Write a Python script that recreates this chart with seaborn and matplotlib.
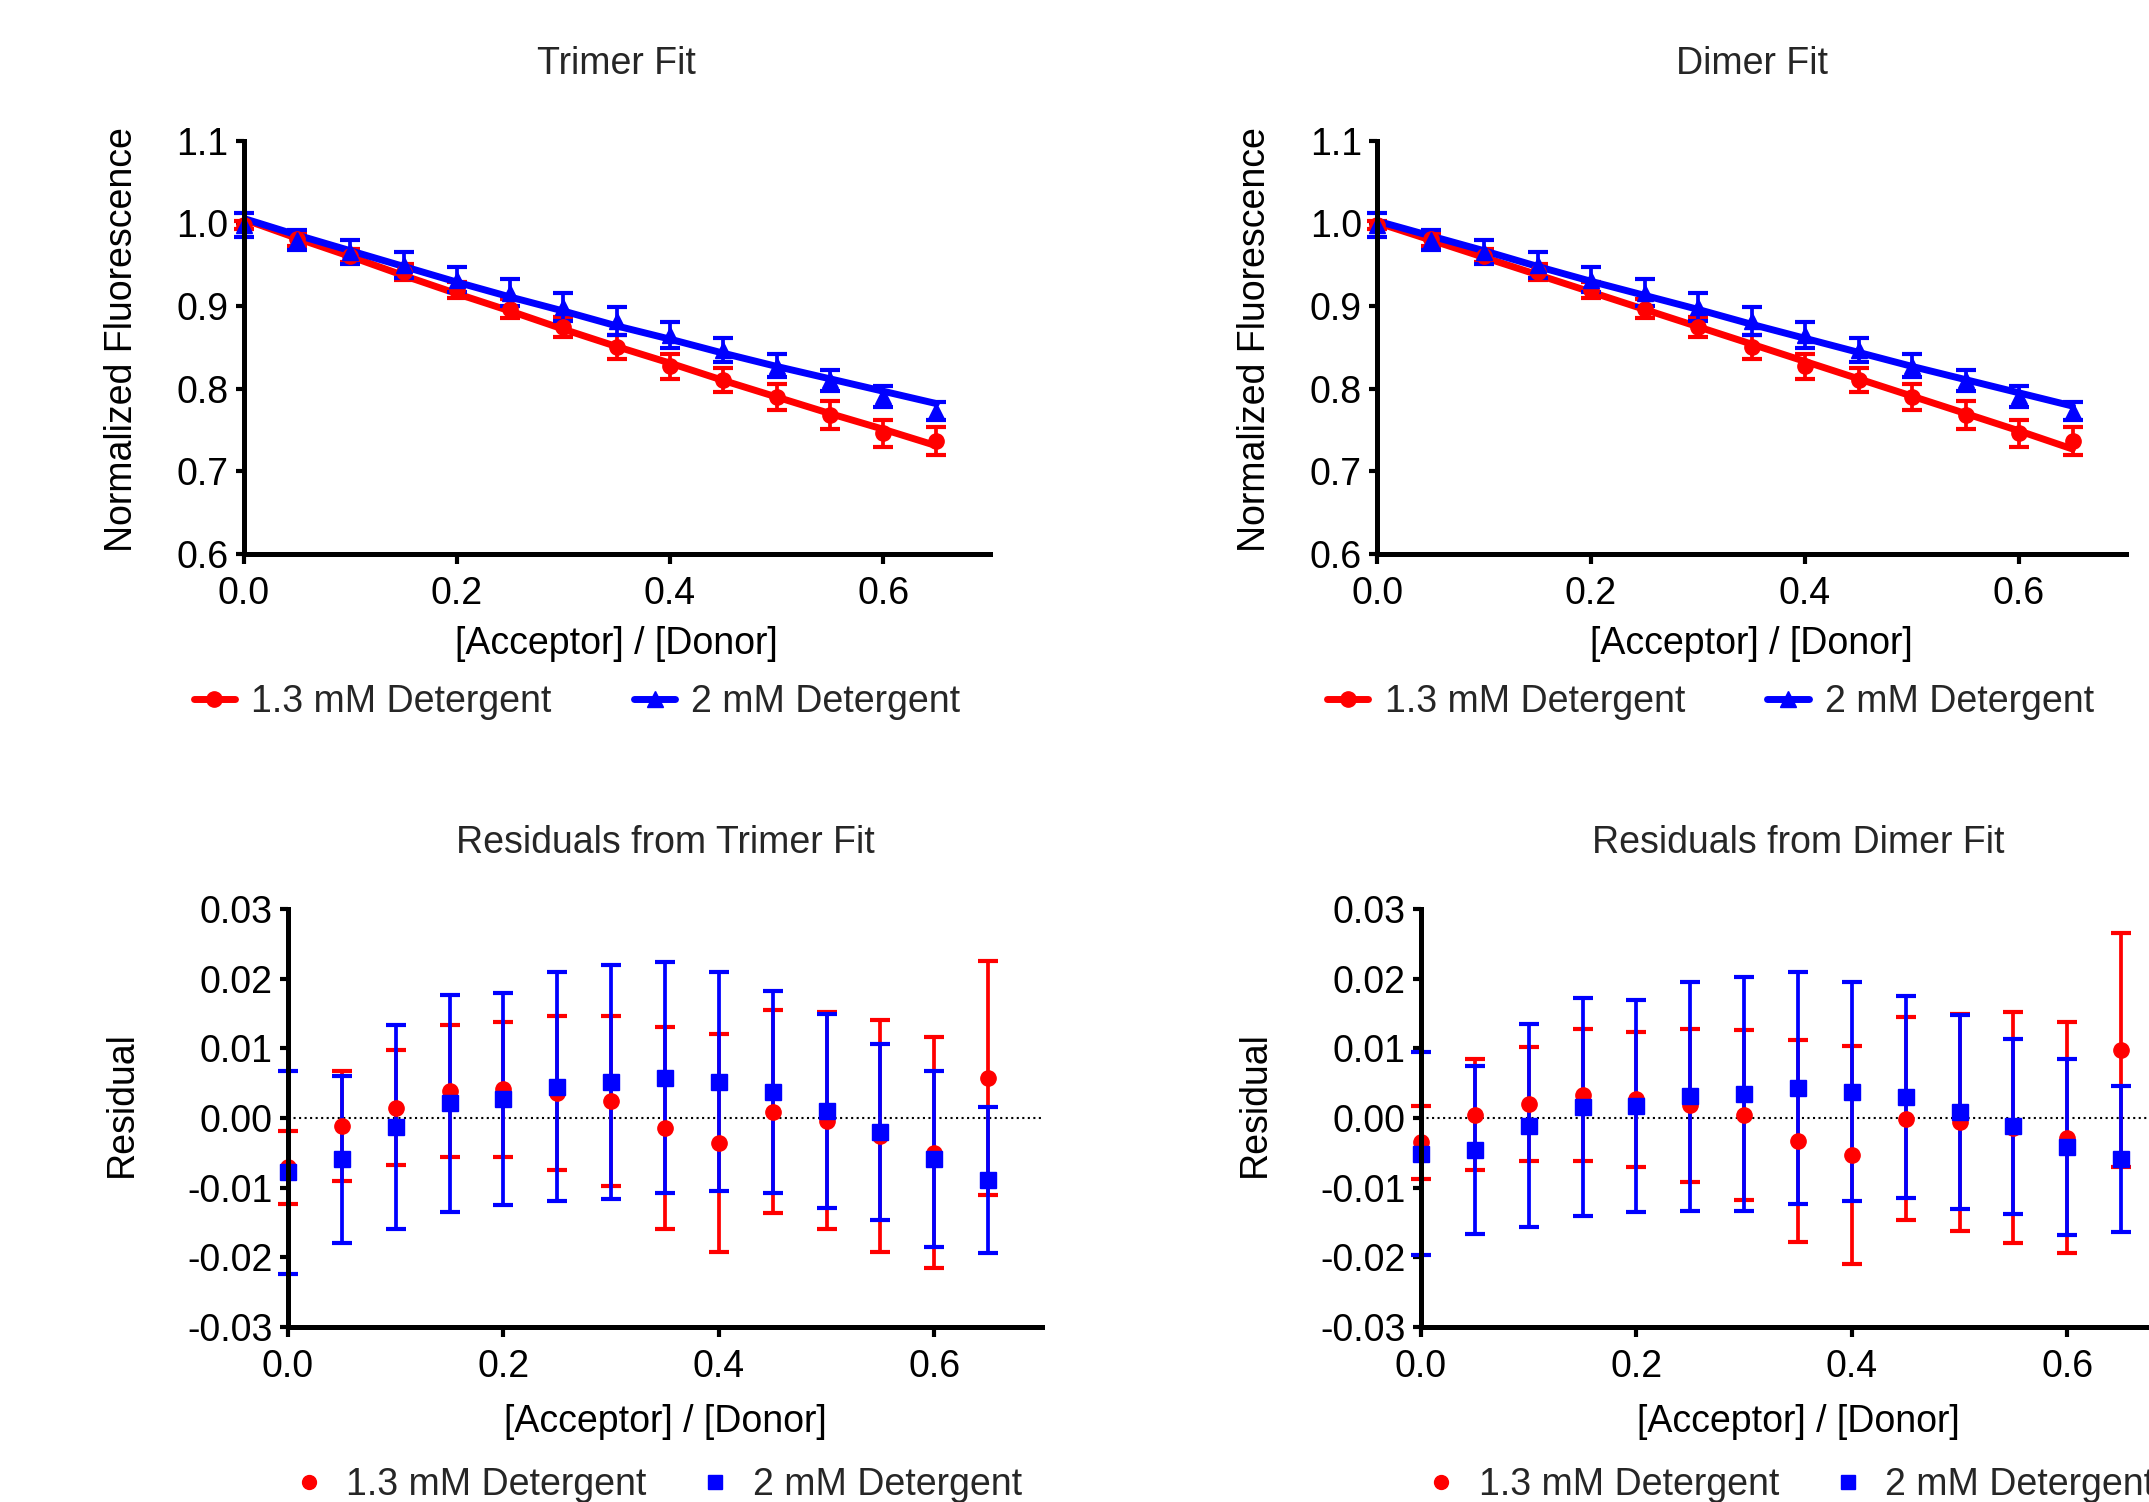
import matplotlib
matplotlib.use('Agg')
import matplotlib.pyplot as plt
from matplotlib.lines import Line2D
from matplotlib.ticker import MultipleLocator, FormatStrFormatter
import seaborn as sns

# acceptor / donor ratio
ratio = [0.0, 0.05, 0.1, 0.15, 0.2, 0.25, 0.3, 0.35, 0.4, 0.45, 0.5, 0.55, 0.6, 0.65]

# measured normalized fluorescence
red_y = [0.998, 0.981, 0.961, 0.941, 0.920, 0.897, 0.875, 0.850, 0.827, 0.811, 0.790, 0.768, 0.746, 0.737]
blue_y = [0.998, 0.980, 0.966, 0.950, 0.932, 0.916, 0.899, 0.882, 0.865, 0.847, 0.828, 0.810, 0.791, 0.773]
red_err = [0.0052, 0.0079, 0.0082, 0.0095, 0.0097, 0.0110, 0.0122, 0.0145, 0.0156, 0.0146, 0.0156, 0.0166, 0.0166, 0.0168]
blue_err = [0.0146, 0.0120, 0.0146, 0.0156, 0.0152, 0.0164, 0.0168, 0.0166, 0.0157, 0.0145, 0.0139, 0.0126, 0.0126, 0.0105]

# fitted curves
trimer_fit_red = [1.005, 0.982, 0.960, 0.937, 0.915, 0.894, 0.872, 0.851, 0.831, 0.810, 0.790, 0.770, 0.751, 0.731]
trimer_fit_blue = [1.006, 0.986, 0.967, 0.948, 0.929, 0.911, 0.894, 0.876, 0.860, 0.843, 0.827, 0.812, 0.797, 0.782]
dimer_fit_red = [1.001, 0.980, 0.959, 0.938, 0.917, 0.896, 0.875, 0.854, 0.833, 0.812, 0.791, 0.770, 0.749, 0.727]
dimer_fit_blue = [1.003, 0.985, 0.967, 0.948, 0.930, 0.913, 0.896, 0.878, 0.861, 0.844, 0.827, 0.811, 0.795, 0.779]

# residuals
trimer_res_red = [-0.0071, -0.0011, 0.0015, 0.0039, 0.0041, 0.0036, 0.0024, -0.0014, -0.0036, 0.0009, -0.0004, -0.0026, -0.0050, 0.0058]
trimer_res_blue = [-0.0078, -0.0059, -0.0013, 0.0021, 0.0027, 0.0045, 0.0052, 0.0058, 0.0052, 0.0037, 0.0010, -0.0020, -0.0059, -0.0089]
dimer_res_red = [-0.0035, 0.0005, 0.0020, 0.0033, 0.0027, 0.0018, 0.0004, -0.0033, -0.0053, -0.0001, -0.0006, -0.0014, -0.0028, 0.0098]
dimer_res_blue = [-0.0051, -0.0046, -0.0011, 0.0016, 0.0017, 0.0031, 0.0034, 0.0043, 0.0038, 0.0030, 0.0009, -0.0012, -0.0042, -0.0059]

labels = ['1.3 mM Detergent', '2 mM Detergent']

RED = '#ff0000'
BLUE = '#0000ff'
FS = 27

sns.set_theme(style='ticks')
plt.rcParams['font.family'] = ['Liberation Sans', 'DejaVu Sans']
plt.rcParams['axes.linewidth'] = 3.6
plt.rcParams['xtick.major.width'] = 3
plt.rcParams['ytick.major.width'] = 3
plt.rcParams['xtick.major.size'] = 7
plt.rcParams['ytick.major.size'] = 6
plt.rcParams['xtick.labelsize'] = FS
plt.rcParams['ytick.labelsize'] = FS
plt.rcParams['xtick.color'] = 'black'
plt.rcParams['ytick.color'] = 'black'
plt.rcParams['axes.edgecolor'] = 'black'

ERR_KW = dict(capsize=7, elinewidth=2.7, capthick=3, clip_on=False)


def style_axes(ax, ylabel, ylab_x, ylab_y, xlab_y):
    sns.despine(ax=ax)
    ax.set_xlim(0, 0.7)
    ax.xaxis.set_major_locator(MultipleLocator(0.2))
    ax.xaxis.set_major_formatter(FormatStrFormatter('%.1f'))
    ax.set_xlabel('[Acceptor] / [Donor]', fontsize=FS, color='black')
    ax.set_ylabel(ylabel, fontsize=FS, color='black')
    ax.yaxis.set_label_coords(ylab_x, ylab_y)
    ax.xaxis.set_label_coords(0.5, xlab_y)
    ax.tick_params(axis='x', pad=9)
    ax.tick_params(axis='y', pad=5)


def fit_panel(ax, title, fit_red, fit_blue):
    sns.lineplot(x=ratio, y=fit_red, color=RED, linewidth=5, ax=ax)
    ax.errorbar(ratio, red_y, yerr=red_err, fmt='o', color=RED, ms=11, **ERR_KW)
    sns.lineplot(x=ratio, y=fit_blue, color=BLUE, linewidth=5, ax=ax)
    ax.errorbar(ratio, blue_y, yerr=blue_err, fmt='^', color=BLUE, ms=12, **ERR_KW)
    ax.set_ylim(0.6, 1.1)
    ax.yaxis.set_major_locator(MultipleLocator(0.1))
    ax.yaxis.set_major_formatter(FormatStrFormatter('%.1f'))
    ax.set_title(title, fontsize=FS, pad=48)
    style_axes(ax, 'Normalized Fluorescence', -0.139, 0.52, -0.175)


def resid_panel(ax, title, res_red, res_blue):
    ax.axhline(0, color='black', linestyle=':', linewidth=1.5, zorder=1)
    ax.errorbar(ratio, res_red, yerr=red_err, fmt='o', color=RED, ms=11, **ERR_KW)
    ax.errorbar(ratio, res_blue, yerr=blue_err, fmt='s', color=BLUE, ms=11.5, **ERR_KW)
    ax.set_ylim(-0.03, 0.03)
    ax.yaxis.set_major_locator(MultipleLocator(0.01))
    ax.yaxis.set_major_formatter(FormatStrFormatter('%.2f'))
    ax.set_title(title, fontsize=FS, pad=40)
    style_axes(ax, 'Residual', -0.196, 0.533, -0.183)


fig = plt.figure(figsize=(21.49, 15.02), dpi=100)

ax_tl = fig.add_axes([0.1135, 0.6312, 0.347, 0.2750])
ax_tr = fig.add_axes([0.6408, 0.6312, 0.3485, 0.2750])
ax_bl = fig.add_axes([0.1340, 0.1165, 0.3509, 0.2783])
ax_br = fig.add_axes([0.6612, 0.1165, 0.3509, 0.2783])

fit_panel(ax_tl, 'Trimer Fit', trimer_fit_red, trimer_fit_blue)
fit_panel(ax_tr, 'Dimer Fit', dimer_fit_red, dimer_fit_blue)
resid_panel(ax_bl, 'Residuals from Trimer Fit', trimer_res_red, trimer_res_blue)
resid_panel(ax_br, 'Residuals from Dimer Fit', dimer_res_red, dimer_res_blue)

line_handles = [Line2D([], [], color=RED, marker='o', lw=5, ms=11),
                Line2D([], [], color=BLUE, marker='^', lw=5, ms=12)]
dot_handles = [Line2D([], [], color=RED, marker='o', lw=0, ms=10),
               Line2D([], [], color=BLUE, marker='s', lw=0, ms=10)]

for cx in (0.2685, 0.796):
    fig.legend(line_handles, labels, loc='center', bbox_to_anchor=(cx, 0.5326),
               ncol=2, frameon=False, fontsize=FS, handlelength=1.1,
               handletextpad=0.43, columnspacing=2.2, borderaxespad=0, borderpad=0)

for cx in (0.306, 0.833):
    fig.legend(dot_handles, labels, loc='center', bbox_to_anchor=(cx, 0.0115),
               ncol=2, frameon=False, fontsize=FS, handlelength=0.8,
               handletextpad=0.6, columnspacing=1.43, borderaxespad=0, borderpad=0)

fig.savefig('out.png', dpi=100)
